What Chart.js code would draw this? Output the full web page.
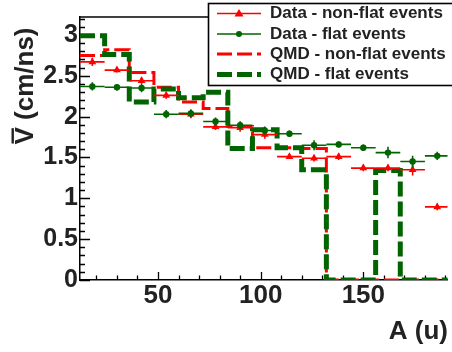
<!DOCTYPE html>
<html><head><meta charset="utf-8">
<script src="https://cdn.jsdelivr.net/npm/chart.js@4/dist/chart.umd.min.js"></script>
<style>html,body{margin:0;padding:0;background:#fff;overflow:hidden}canvas{display:block}</style>
</head><body>
<canvas id="c" width="452" height="352"></canvas>
<script>
// ---- data ----
const binEdges   = [12,24,36,48,60,72,84,96,108,120,132,144,156,168,180,192];
const binCenters = [18,30,42,54,66,78,90,102,114,126,138,150,162,174,186];
const dataNonFlat = [2.67,2.57,2.44,2.26,2.03,1.875,1.865,1.78,1.51,1.49,1.51,1.37,1.37,1.35,0.895];
const errNonFlat  = [0.05,0.03,0.04,0.04,0.05,0.04,0.05,0.05,0.03,0.04,0.04,0.04,0.04,0.07,0.04];
const dataFlat    = [2.37,2.36,2.35,2.03,2.04,1.94,1.895,1.83,1.79,1.65,1.66,1.62,1.56,1.45,1.52];
const errFlat     = [0.05,0.04,0.05,0.05,0.05,0.05,0.05,0.05,0.04,0.06,0.04,0.04,0.07,0.07,0.05];
const qmdNonFlat  = [2.75,2.82,2.54,2.36,2.18,2.10,1.88,1.62,1.62,1.61,0,0,0,0,0];
const qmdFlat     = [2.99,2.76,2.18,2.34,2.23,2.30,1.61,1.84,1.62,1.35,0,0,1.34,0,0];
const xTickLabels = [50,100,150];
const yTickLabels = [0,0.5,1,1.5,2,2.5,3];
const seriesNames = ['Data - non-flat events','Data - flat events','QMD - non-flat events','QMD - flat events'];
const xTitle = 'A (u)';
const yTitleMain = 'V';
const yTitleRest = ' (cm/ns)';

const RED = '#ff0000', GREEN = '#006400';
const FONT = '"Liberation Sans", Arial, Helvetica, sans-serif';

function points(vals, errs){
  return binCenters.map((c,i)=>({x:c, y:vals[i], err:errs[i], lo:binEdges[i], hi:binEdges[i+1]}));
}
function histo(vals){
  return binEdges.map((e,i)=>({x:e, y:vals[Math.min(i, vals.length-1)]}));
}

const errorBars = {
  id:'errorBars',
  beforeDatasetDraw(chart, args){
    const ds = chart.data.datasets[args.index];
    if(!ds.errorBars) return;
    const xs = chart.scales.x, ys = chart.scales.y, ctx = chart.ctx, a = chart.chartArea;
    ctx.save();
    ctx.beginPath(); ctx.rect(a.left, a.top, a.right-a.left, a.bottom-a.top); ctx.clip();
    ctx.strokeStyle = ds.borderColor; ctx.lineWidth = 1.6;
    ds.data.forEach(p=>{
      const cx = xs.getPixelForValue(p.x), cy = ys.getPixelForValue(p.y);
      ctx.beginPath();
      ctx.moveTo(xs.getPixelForValue(p.lo), cy); ctx.lineTo(xs.getPixelForValue(p.hi), cy);
      ctx.moveTo(cx, ys.getPixelForValue(p.y - p.err)); ctx.lineTo(cx, ys.getPixelForValue(p.y + p.err));
      ctx.stroke();
    });
    ctx.restore();
  }
};

const frame = {
  id:'frame',
  beforeDatasetsDraw(chart){
    const ctx = chart.ctx, a = chart.chartArea, xs = chart.scales.x, ys = chart.scales.y;
    ctx.save();
    ctx.strokeStyle = '#000'; ctx.lineWidth = 1.3;
    ctx.beginPath();
    for(let k=0;k<=32;k++){
      const v = k/10, y = Math.round(ys.getPixelForValue(v))+0.5;
      const len = (k%5===0)?10:5;
      ctx.moveTo(a.left, y); ctx.lineTo(a.left+len, y);
    }
    for(let v=20; v<=190; v+=10){
      const x = Math.round(xs.getPixelForValue(v))+0.5;
      const len = (v%50===0)?8:4.5;
      ctx.moveTo(x, a.bottom); ctx.lineTo(x, a.bottom-len);
    }
    ctx.stroke();
    ctx.lineWidth = 1.5;
    ctx.beginPath(); ctx.moveTo(a.left, a.top); ctx.lineTo(a.right, a.top); ctx.stroke();
    ctx.restore();
  },
  afterDraw(chart){
    const ctx = chart.ctx;
    ctx.save();
    ctx.fillStyle = '#222';
    // x title
    ctx.font = 'bold 26px ' + FONT;
    ctx.textAlign = 'right'; ctx.textBaseline = 'middle';
    ctx.fillText(xTitle, 448, 332);
    // y title rotated
    ctx.translate(24, 86);
    ctx.rotate(-Math.PI/2);
    const wV = ctx.measureText(yTitleMain).width, wR = ctx.measureText(yTitleRest).width;
    const x0 = -(wV+wR)/2;
    ctx.textAlign = 'left';
    ctx.fillText(yTitleMain, x0, 2);
    ctx.fillText(yTitleRest, x0+wV, 2);
    ctx.fillRect(x0+1, -12.5, wV-2, 2.4);
    ctx.restore();
  }
};

const legendBox = {
  id:'legendBox',
  afterDatasetsDraw(chart){
    const ctx = chart.ctx;
    ctx.save();
    ctx.fillStyle = '#fff'; ctx.strokeStyle = '#000'; ctx.lineWidth = 1.6;
    ctx.fillRect(208.5, 3.5, 260, 82);
    ctx.strokeRect(208.5, 3.5, 260, 82);
    const rows = [13.5, 34, 54, 74.5];
    [0,1,2,3].forEach((di, r)=>{
      const ds = chart.data.datasets[di], y = rows[r];
      ctx.save();
      ctx.strokeStyle = ds.borderColor;
      ctx.lineWidth = ds.legendWidth;
      ctx.setLineDash(ds.borderDash || []);
      ctx.beginPath(); ctx.moveTo(217, y); ctx.lineTo(261, y); ctx.stroke();
      ctx.setLineDash([]);
      if(ds.pointStyle === 'triangle'){
        ctx.fillStyle = ds.borderColor; ctx.beginPath();
        ctx.moveTo(239, y-4.5); ctx.lineTo(243.5, y+3); ctx.lineTo(234.5, y+3); ctx.closePath(); ctx.fill();
      } else if(ds.pointStyle === 'circle'){
        ctx.fillStyle = ds.borderColor; ctx.beginPath(); ctx.arc(239, y, 3, 0, Math.PI*2); ctx.fill();
      }
      ctx.restore();
      ctx.fillStyle = '#222';
      ctx.font = 'bold 17px ' + FONT;
      ctx.textAlign = 'left'; ctx.textBaseline = 'middle';
      ctx.fillText(ds.label, 270, y);
    });
    ctx.restore();
  }
};

new Chart(document.getElementById('c'), {
  type:'scatter',
  data:{ datasets:[
    { label:seriesNames[0], data:points(dataNonFlat, errNonFlat), errorBars:true,
      borderColor:RED, backgroundColor:RED, pointStyle:'triangle', pointRadius:4.5, pointBorderWidth:0,
      showLine:false, order:1, legendWidth:1.6 },
    { label:seriesNames[1], data:points(dataFlat, errFlat), errorBars:true,
      borderColor:GREEN, backgroundColor:GREEN, pointStyle:'circle', pointRadius:3.2, pointBorderWidth:0,
      showLine:false, order:0, legendWidth:1.6 },
    { label:seriesNames[2], data:histo(qmdNonFlat), type:'line', stepped:true, showLine:true,
      borderColor:RED, borderWidth:3, borderDash:[15,5], pointRadius:0, fill:false, order:3, legendWidth:3 },
    { label:seriesNames[3], data:histo(qmdFlat), type:'line', stepped:true, showLine:true,
      borderColor:GREEN, borderWidth:5, borderDash:[15,5], pointRadius:0, fill:false, order:2, legendWidth:5 }
  ]},
  options:{
    responsive:false, devicePixelRatio:1, animation:false,
    layout:{ padding:{ top:14, right:0, left:0, bottom:0 } },
    plugins:{ legend:{display:false}, tooltip:{enabled:false} },
    scales:{
      x:{ type:'linear', min:12, max:191,
        afterBuildTicks(s){ s.ticks = xTickLabels.map(v=>({value:v})); },
        afterFit(s){ s.height = 72; },
        grid:{ drawOnChartArea:false, drawTicks:false },
        border:{ display:true, color:'#000', width:1.5 },
        ticks:{ color:'#222', font:{family:FONT, size:26, weight:'bold'}, padding:0, maxRotation:0, autoSkip:false,
          callback:(v)=>String(v) }
      },
      y:{ type:'linear', min:0, max:3.22,
        afterBuildTicks(s){ s.ticks = yTickLabels.map(v=>({value:v})); },
        afterFit(s){ s.width = 80; },
        grid:{ drawOnChartArea:false, drawTicks:false },
        border:{ display:true, color:'#000', width:1.5 },
        ticks:{ color:'#222', font:{family:FONT, size:25, weight:'bold'}, padding:2, autoSkip:false,
          callback:(v)=>String(Number(v)) }
      }
    }
  },
  plugins:[errorBars, frame, legendBox]
});
</script>
</body></html>
